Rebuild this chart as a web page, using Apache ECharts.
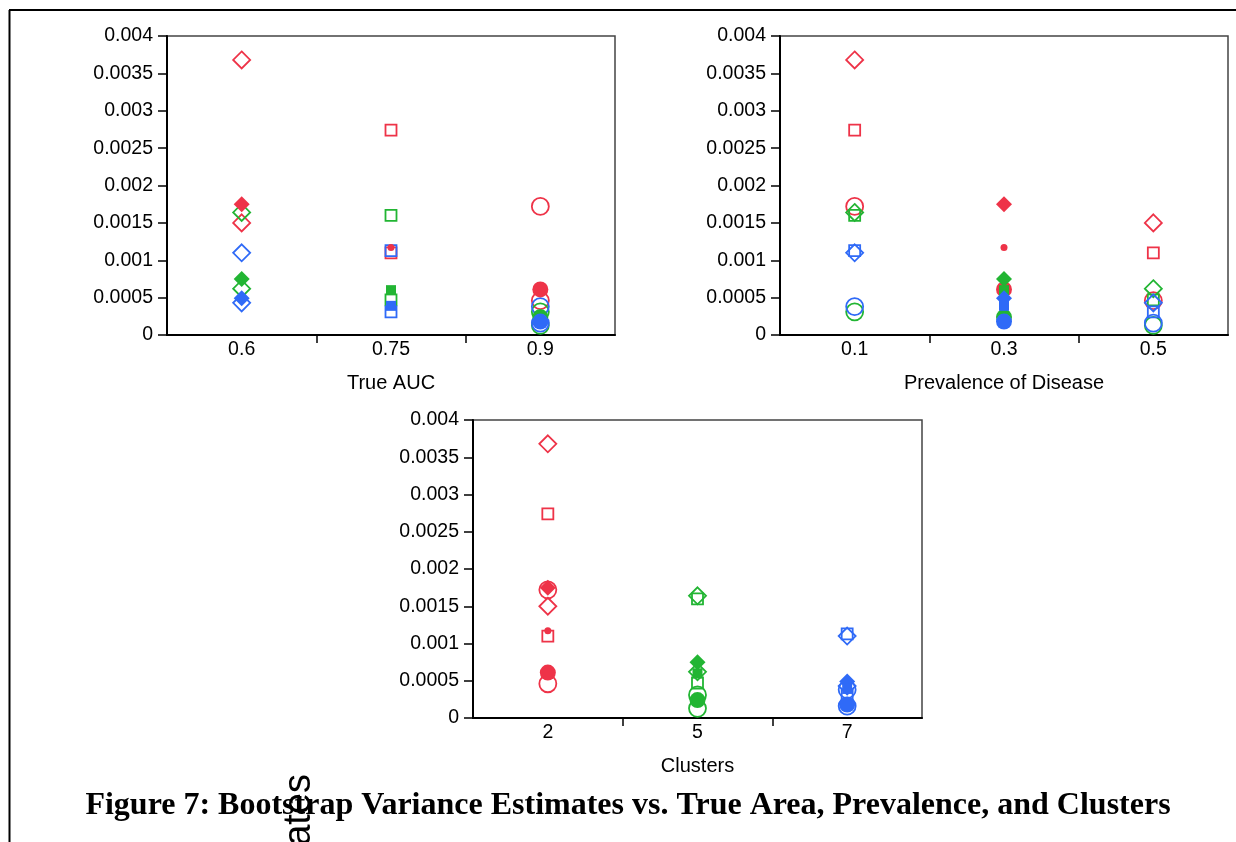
<!DOCTYPE html>
<html>
<head>
<meta charset="utf-8">
<script src="https://cdn.jsdelivr.net/npm/echarts@6/dist/echarts.min.js"></script>
<style>
html,body{margin:0;padding:0;background:#fff;}
#chart{width:1236px;height:842px;}
</style>
</head>
<body>
<div id="chart"></div>
<script>
// Categories of the three factors
const aucCats = ['0.6', '0.75', '0.9'];
const prevCats = ['0.1', '0.3', '0.5'];
const clusterCats = ['2', '5', '7'];
const yTickValues = [0, 0.0005, 0.001, 0.0015, 0.002, 0.0025, 0.003, 0.0035, 0.004];

// Bootstrap variance estimates: rows = True AUC (0.6, 0.75, 0.9), columns = prevalence (0.1, 0.3, 0.5)
const bootVar2Clusters = [
  [0.00368, 0.00175, 0.00150],
  [0.00274, 0.00117, 0.00110],
  [0.00172, 0.00061, 0.00046]
];
const bootVar5Clusters = [
  [0.00164, 0.00075, 0.00062],
  [0.00160, 0.00060, 0.00047],
  [0.00031, 0.00024, 0.00013]
];
const bootVar7Clusters = [
  [0.00110, 0.00049, 0.00043],
  [0.00113, 0.00039, 0.00031],
  [0.00038, 0.00018, 0.00016]
];

const xAxisNames = ['True AUC', 'Prevalence of Disease', 'Clusters'];
const titleText = 'Figure 7: Bootstrap Variance Estimates vs. True Area, Prevalence, and Clusters';

// ---- styling ----
const clusterColors = ['#ee3348', '#22b533', '#2f6af7'];
const shapes = ['diamond', 'rect', 'circle'];
const openSize = [17, 11, 17];
const filledSize = [16, 10, 16];
const FONT = 'Liberation Sans, Arial, sans-serif';

const allVals = [bootVar2Clusters, bootVar5Clusters, bootVar7Clusters];
const panelCats = [aucCats, prevCats, clusterCats];

const grids = [
  { left: 167, top: 36, width: 448, height: 299 },
  { left: 780, top: 36, width: 448, height: 299 },
  { left: 473, top: 420, width: 449, height: 298 }
];

const xAxes = [], yAxes = [], series = [];
grids.forEach((g, p) => {
  g.show = true;
  g.borderColor = '#444';
  g.borderWidth = 1.5;
  g.containLabel = false;
  // category axis: labels, name, axis line
  xAxes.push({
    type: 'category', gridIndex: p, position: 'bottom', data: panelCats[p], boundaryGap: true,
    name: xAxisNames[p], nameLocation: 'middle', nameGap: 38,
    nameTextStyle: { fontFamily: FONT, fontSize: 20, color: '#000' },
    axisLine: { show: true, lineStyle: { color: '#000', width: 2 } },
    axisTick: { show: false },
    axisLabel: { fontFamily: FONT, fontSize: 19.5, color: '#000', margin: 5 },
    splitLine: { show: false }
  });
  // helper axis that only draws the ticks between the categories
  xAxes.push({
    type: 'value', gridIndex: p, position: 'bottom', min: 0, max: 3, interval: 3,
    axisLine: { show: false },
    axisTick: { show: false },
    axisLabel: { show: false },
    minorTick: { show: true, splitNumber: 3, length: 8, lineStyle: { color: '#000', width: 1.5 } },
    splitLine: { show: false }, minorSplitLine: { show: false }
  });
  yAxes.push({
    type: 'value', gridIndex: p, min: 0, max: 0.004, interval: 0.0005,
    axisLine: { show: true, lineStyle: { color: '#000', width: 2 } },
    axisTick: { show: true, inside: false, length: 9, lineStyle: { color: '#000', width: 1.5 } },
    axisLabel: {
      fontFamily: FONT, fontSize: 19.5, color: '#000', margin: 14,
      formatter: v => String(+v.toFixed(4))
    },
    splitLine: { show: false }
  });
  for (let c = 0; c < 3; c++) {
    for (let a = 0; a < 3; a++) {
      for (const filled of [false, true]) {
        const data = [];
        for (let q = 0; q < 3; q++) {
          const isFilled = (q === 1);
          if (isFilled !== filled) continue;
          const idx = [a, q, c][p];
          data.push([idx, allVals[c][a][q]]);
        }
        let symbol = shapes[a];
        let size = filled ? filledSize[a] : openSize[a];
        if (filled && c === 0 && a === 1) { symbol = 'circle'; size = 7; }
        series.push({
          type: 'scatter', xAxisIndex: p * 2, yAxisIndex: p,
          symbol: symbol, symbolSize: size,
          z: filled ? 3 : 2,
          itemStyle: filled
            ? { color: clusterColors[c], borderWidth: 0, opacity: 1 }
            : { color: 'rgba(255,255,255,0)', borderColor: clusterColors[c], borderWidth: 1.8, opacity: 1 },
          emphasis: { disabled: true },
          data: data
        });
      }
    }
  }
});

const chart = echarts.init(document.getElementById('chart'), null, { renderer: 'canvas' });
chart.setOption({
  animation: false,
  backgroundColor: '#fff',
  grid: grids,
  xAxis: xAxes,
  yAxis: yAxes,
  series: series,
  graphic: [
    { type: 'line', shape: { x1: 9, y1: 10, x2: 1236, y2: 10 }, style: { stroke: '#000', lineWidth: 2 } },
    { type: 'line', shape: { x1: 9.5, y1: 10, x2: 9.5, y2: 842 }, style: { stroke: '#000', lineWidth: 2 } },
    {
      type: 'text', x: 628, y: 806,
      style: { text: titleText, font: 'bold 32px "Liberation Serif", "Times New Roman", serif', fill: '#000', align: 'center', verticalAlign: 'middle' }
    },
    {
      type: 'text', x: 319, y: 774, rotation: Math.PI / 2,
      style: { text: 'Estimates', font: '38px "Liberation Sans", Arial, sans-serif', fill: '#000', align: 'right', verticalAlign: 'bottom' }
    }
  ]
});
</script>
</body>
</html>
